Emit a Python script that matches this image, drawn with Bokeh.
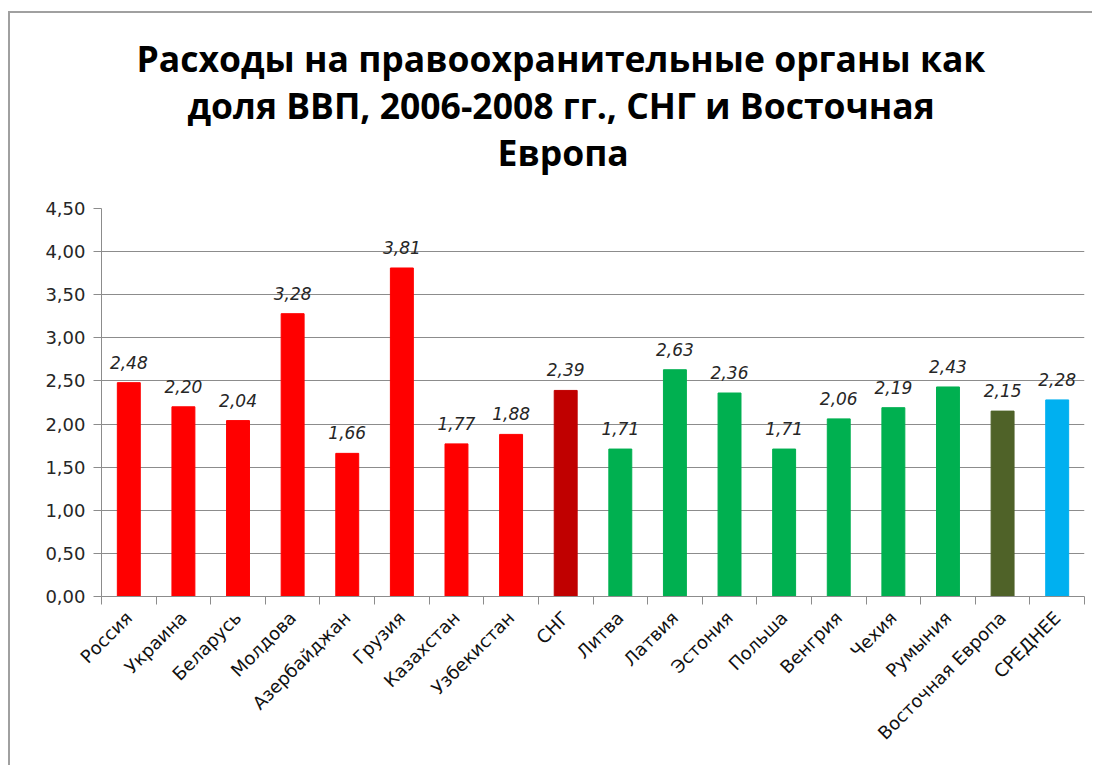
import math
from bokeh.plotting import figure
from bokeh.models import (ColumnDataSource, Range1d, FixedTicker, LinearAxis,
                          CustomJSTickFormatter, Title, Grid)
from bokeh.core.properties import value
from bokeh.embed import file_html
from bokeh.resources import INLINE

categories = ["Россия", "Украина", "Беларусь", "Молдова", "Азербайджан", "Грузия",
              "Казахстан", "Узбекистан", "СНГ", "Литва", "Латвия", "Эстония",
              "Польша", "Венгрия", "Чехия", "Румыния", "Восточная Европа", "СРЕДНЕЕ"]
values = [2.48, 2.20, 2.04, 3.28, 1.66, 3.81, 1.77, 1.88, 2.39,
          1.71, 2.63, 2.36, 1.71, 2.06, 2.19, 2.43, 2.15, 2.28]
groups = ["cis"] * 8 + ["cis_total"] + ["ee"] * 7 + ["ee_total", "avg"]
group_colors = {"cis": "#FF0000", "cis_total": "#C00000", "ee": "#00B050",
                "ee_total": "#4F6228", "avg": "#00B0F0"}
y_ticks = [0, 0.5, 1.0, 1.5, 2.0, 2.5, 3.0, 3.5, 4.0, 4.5]
title_lines = ["Расходы на правоохранительные органы как",
               "доля ВВП, 2006-2008 гг., СНГ и Восточная",
               "Европа"]

xs = [i + 0.5 for i in range(len(categories))]
src = ColumnDataSource(dict(
    x=xs, top=values, color=[group_colors[g] for g in groups],
    label=[f"{v:.2f}".replace(".", ",") for v in values],
))

W, H = 1084, 754
FL, FT, FR, FB = 91, 195, 1074, 583   # frame edges in canvas pixels
p = figure(width=W, height=H, output_backend="svg", toolbar_location=None,
           x_range=Range1d(0, len(categories)), y_range=Range1d(0, 4.5),
           min_border_left=FL, min_border_right=W - FR, min_border_top=FT,
           min_border_bottom=H - FB, x_axis_type=None, y_axis_type=None,
           background_fill_color="#FFFFFF", border_fill_color="#FFFFFF",
           outline_line_color=None, title=None)
p.styles = {"margin-left": "10px", "margin-top": "13px",
            "box-shadow": "-2px -2px 0px 0px #a0a0a0"}

p.vbar(x="x", top="top", bottom=0, width=0.42, color="color", source=src)
p.text(x="x", y="top", text="label", source=src, text_align="center",
       text_baseline="bottom", y_offset=-14, text_font=value("DejaVu Sans"),
       text_font_style="italic", text_font_size="17px", text_color="#262626")

yaxis = LinearAxis(ticker=FixedTicker(ticks=y_ticks),
                   formatter=CustomJSTickFormatter(code="return tick.toFixed(2).replace('.', ',');"))
yaxis.axis_line_color = "#8c8c8c"
yaxis.major_tick_line_color = "#8c8c8c"
yaxis.major_tick_out = 8
yaxis.major_tick_in = 0
yaxis.minor_tick_line_color = None
yaxis.major_label_text_font = "DejaVu Sans"
yaxis.major_label_text_font_size = "18px"
yaxis.major_label_text_color = "#262626"
yaxis.major_label_standoff = 8
p.add_layout(yaxis, "left")

label_map = {x: c for x, c in zip(xs, categories)}
xaxis = LinearAxis(ticker=FixedTicker(ticks=xs, minor_ticks=list(range(len(categories) + 1))),
                   major_label_overrides=label_map)
xaxis.axis_line_color = "#8c8c8c"
xaxis.major_tick_line_color = None
xaxis.minor_tick_line_color = "#8c8c8c"
xaxis.minor_tick_out = 8
xaxis.minor_tick_in = 0
xaxis.major_label_orientation = math.pi / 4
xaxis.major_label_text_font = "DejaVu Sans"
xaxis.major_label_text_font_size = "18px"
xaxis.major_label_text_color = "#111111"
xaxis.major_label_standoff = 10
p.add_layout(xaxis, "below")

p.ygrid.visible = False
p.xgrid.visible = False
p.add_layout(Grid(dimension=1, ticker=yaxis.ticker, grid_line_color="#8c8c8c"))

# spacer between the title block and the plot area
p.add_layout(Title(text="\u00a0", text_font_size="1px", standoff=31), "above")
# title lines: the first added "above" sits closest to the frame
for line, left_off in zip(reversed(title_lines), [396, 86, 35]):
    p.add_layout(Title(text=line, align="left", offset=left_off,
                       text_font="Open Sans", text_font_style="bold",
                       text_font_size="35.5px", text_color="#000000",
                       standoff=-3), "above")

open("out.html", "w").write(file_html(p, INLINE))
